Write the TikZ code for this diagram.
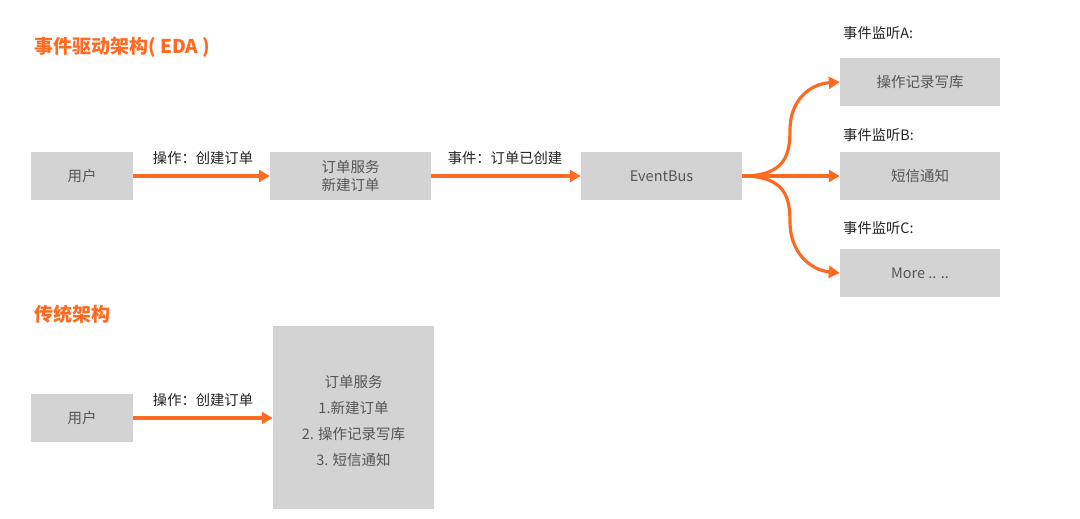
\documentclass[tikz,border=0pt]{standalone}
\usepackage{fontspec}
\setmainfont{Noto Sans CJK SC}
\usetikzlibrary{arrows.meta}
\definecolor{accent}{HTML}{FF6A22}
\definecolor{boxfill}{HTML}{D3D3D3}
\definecolor{boxtext}{HTML}{555555}
\definecolor{labeltext}{HTML}{222222}
\tikzset{
  box/.style={fill=boxfill, draw=none, inner sep=0pt, font=\fontsize{14.5}{18}\selectfont, text=boxtext, align=center},
  flow/.style={draw=accent, line width=3.2pt, -{Triangle[length=11pt,width=12pt]}},
  lbl/.style={font=\fontsize{14.3}{17}\selectfont, text=labeltext, inner sep=0pt},
  heading/.style={font=\fontsize{19}{22}\selectfont\bfseries, text=accent, inner sep=0pt, anchor=west},
}
\begin{document}
\begin{tikzpicture}[x=1pt,y=-1pt]
\useasboundingbox (0,0) rectangle (1080,519);
% headings
\node[heading] (h1) at (34,47) {事件驱动架构( EDA )};
\node[heading] (h2) at (34,314) {传统架构};
% EDA row
\node[box, minimum width=102pt, minimum height=48pt] (u1) at (82,176) {用户};
\node[box, minimum width=161pt, minimum height=48pt] (os) at (350.5,176) {订单服务\\新建订单};
\node[box, minimum width=161pt, minimum height=48pt] (eb) at (661.5,176) {EventBus};
\node[box, minimum width=160pt, minimum height=48pt] (la) at (920,82) {操作记录写库};
\node[box, minimum width=160pt, minimum height=48pt] (lb) at (920,176) {短信通知};
\node[box, minimum width=160pt, minimum height=48pt] (lc) at (920,273) {More .. ..};
\node[lbl, anchor=west] (ta) at (843,33) {事件监听A:};
\node[lbl, anchor=west] (tb) at (843,135) {事件监听B:};
\node[lbl, anchor=west] (tc) at (843,228) {事件监听C:};
\draw[flow] (u1.east) -- (os.west);
\node[lbl] (l1) at (203,158) {操作：创建订单};
\draw[flow] (os.east) -- (eb.west);
\node[lbl] (l2) at (505,158) {事件：订单已创建};
\coordinate (fork) at (eb.east);
\draw[flow] (fork) .. controls (785,176) and (790,155) .. (790,130) .. controls (790,100) and (810,84) .. (la.west);
\draw[flow] (fork) -- (lb.west);
\draw[flow] (fork) .. controls (785,176) and (790,197) .. (790,222) .. controls (790,252) and (810,270) .. (lc.west);
% traditional row
\node[box, minimum width=102pt, minimum height=48pt] (u2) at (82,418) {用户};
\node[box, minimum width=161pt, minimum height=183pt] (os2) at (353.5,417.5) {};
\node[box, fill=none, font=\fontsize{14.5}{25.7}\selectfont] (os2t) at (353.5,421) {订单服务\\1.新建订单\\2. 操作记录写库\\3. 短信通知};
\draw[flow] (u2.east) -- (u2.east -| os2.west);
\node[lbl] (l3) at (203,400) {操作：创建订单};
\end{tikzpicture}
\end{document}
